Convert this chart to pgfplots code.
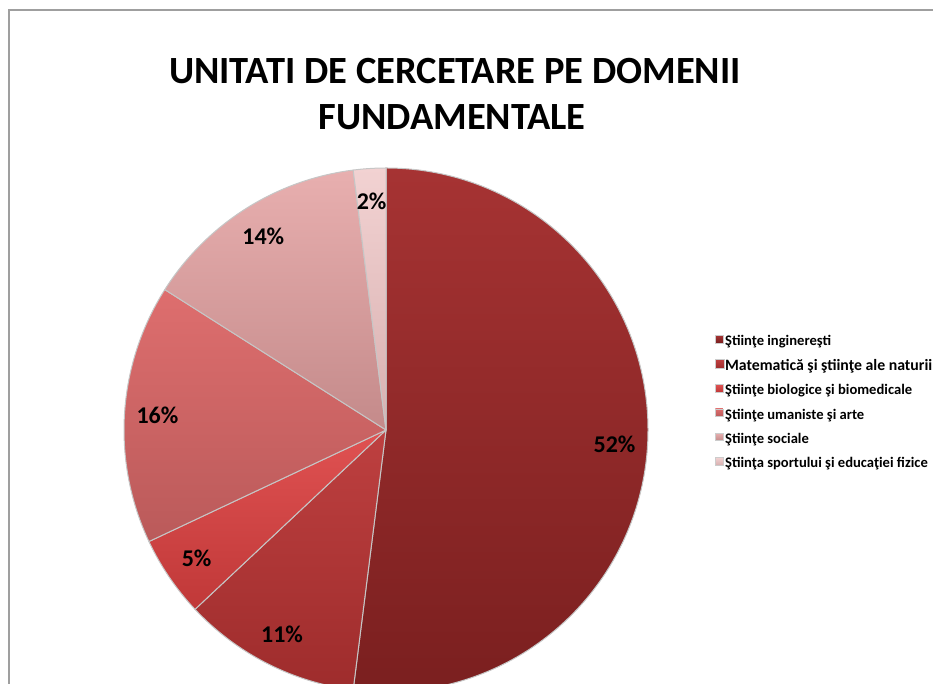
\documentclass[border=0pt]{standalone}
\usepackage{pgfplots}
\pgfplotsset{compat=1.18}
\usepackage{pgfplotstable}
\usepackage{fontspec}
\setmainfont{Carlito}

\definecolor{cAt}{HTML}{A63333}
\definecolor{cAb}{HTML}{7A1F1F}
\definecolor{cBt}{HTML}{BE4040}
\definecolor{cBb}{HTML}{9E2C2C}
\definecolor{cCt}{HTML}{E05252}
\definecolor{cCb}{HTML}{C03838}
\definecolor{cDt}{HTML}{DE6E6E}
\definecolor{cDb}{HTML}{BA5A5A}
\definecolor{cEt}{HTML}{E8AFAF}
\definecolor{cEb}{HTML}{C48A8A}
\definecolor{cFt}{HTML}{F2D2D2}
\definecolor{cFb}{HTML}{D8B0B0}

% share (%) of each domain, clockwise from 12 o'clock
\pgfplotstableread{
value ct  cb
52    cAt cAb
11    cBt cBb
5     cCt cCb
16    cDt cDb
14    cEt cEb
2     cFt cFb
}\piedata

\begin{document}
\begin{tikzpicture}
\begin{axis}[
  x=1pt, y=1pt,
  xmin=0, xmax=933, ymin=0, ymax=684,
  hide axis, clip=true,
  legend cell align=left,
  legend style={
    at={(axis cs:712,351)}, anchor=north west,
    draw=none, fill=none,
    font=\bfseries\fontsize{14.6}{14.6}\selectfont,
    nodes={inner sep=0pt, text height=9pt, text depth=3pt},
    row sep=10.6pt,
    /tikz/every odd column/.append style={column sep=1pt},
  },
]
\pgfplotsextra{
  \gdef\cum{0}
  \foreach \i in {0,...,5}{
    \pgfplotstablegetelem{\i}{value}\of\piedata \edef\v{\pgfplotsretval}
    \pgfplotstablegetelem{\i}{ct}\of\piedata \edef\ct{\pgfplotsretval}
    \pgfplotstablegetelem{\i}{cb}\of\piedata \edef\cb{\pgfplotsretval}
    \pgfmathsetmacro\a{90-3.6*\cum}
    \pgfmathsetmacro\b{90-3.6*(\cum+\v)}
    \shadedraw[top color=\ct, bottom color=\cb, draw=white!55!gray, line width=1pt, line join=round]
      (axis cs:386,254) -- ++(\a:262pt) arc[start angle=\a, end angle=\b, radius=262pt] -- cycle;
    \pgfmathsetmacro\c{\cum+\v}\xdef\cum{\c}
  }
  \gdef\cum{0}
  \foreach \i in {0,...,5}{
    \pgfplotstablegetelem{\i}{value}\of\piedata \edef\v{\pgfplotsretval}
    \pgfmathsetmacro\m{90-3.6*(\cum+\v/2)}
    \path (axis cs:386,254) ++(\m:229pt) node[font=\bfseries\fontsize{24}{24}\selectfont] {\v\%};
    \pgfmathsetmacro\c{\cum+\v}\xdef\cum{\c}
  }
  \draw[gray!75, line width=1.5pt] (axis cs:9,0) -- (axis cs:9,674) -- (axis cs:933,674);
  \node[font=\bfseries\fontsize{38.5}{38.5}\selectfont] at (axis cs:455,613) {UNITATI DE CERCETARE PE DOMENII};
  \node[font=\bfseries\fontsize{38.5}{38.5}\selectfont] at (axis cs:452,567) {FUNDAMENTALE};
}
\addlegendimage{legend image code/.code={\shadedraw[top color=cAt,bottom color=cAb,draw=white!60!gray,line width=0.4pt] (0pt,0pt) rectangle (7.5pt,7.5pt);}}
\addlegendentry{Ştiinţe inginereşti}
\addlegendimage{legend image code/.code={\shadedraw[top color=cBt,bottom color=cBb,draw=white!60!gray,line width=0.4pt] (0pt,-0.5pt) rectangle (8.5pt,8pt);}}
\addlegendentry{\fontsize{15.8}{15.8}\selectfont Matematică şi ştiinţe ale naturii}
\addlegendimage{legend image code/.code={\shadedraw[top color=cCt,bottom color=cCb,draw=white!60!gray,line width=0.4pt] (0pt,0pt) rectangle (7.5pt,7.5pt);}}
\addlegendentry{Ştiinţe biologice şi biomedicale}
\addlegendimage{legend image code/.code={\shadedraw[top color=cDt,bottom color=cDb,draw=white!60!gray,line width=0.4pt] (0pt,0pt) rectangle (7.5pt,7.5pt);}}
\addlegendentry{Ştiinţe umaniste şi arte}
\addlegendimage{legend image code/.code={\shadedraw[top color=cEt,bottom color=cEb,draw=white!60!gray,line width=0.4pt] (0pt,0pt) rectangle (7.5pt,7.5pt);}}
\addlegendentry{Ştiinţe sociale}
\addlegendimage{legend image code/.code={\shadedraw[top color=cFt,bottom color=cFb,draw=white!60!gray,line width=0.4pt] (0pt,0pt) rectangle (7.5pt,7.5pt);}}
\addlegendentry{Ştiinţa sportului şi educaţiei fizice}
\end{axis}
\pgfresetboundingbox
\path (current axis.south west) rectangle (current axis.north east);
\end{tikzpicture}
\end{document}
